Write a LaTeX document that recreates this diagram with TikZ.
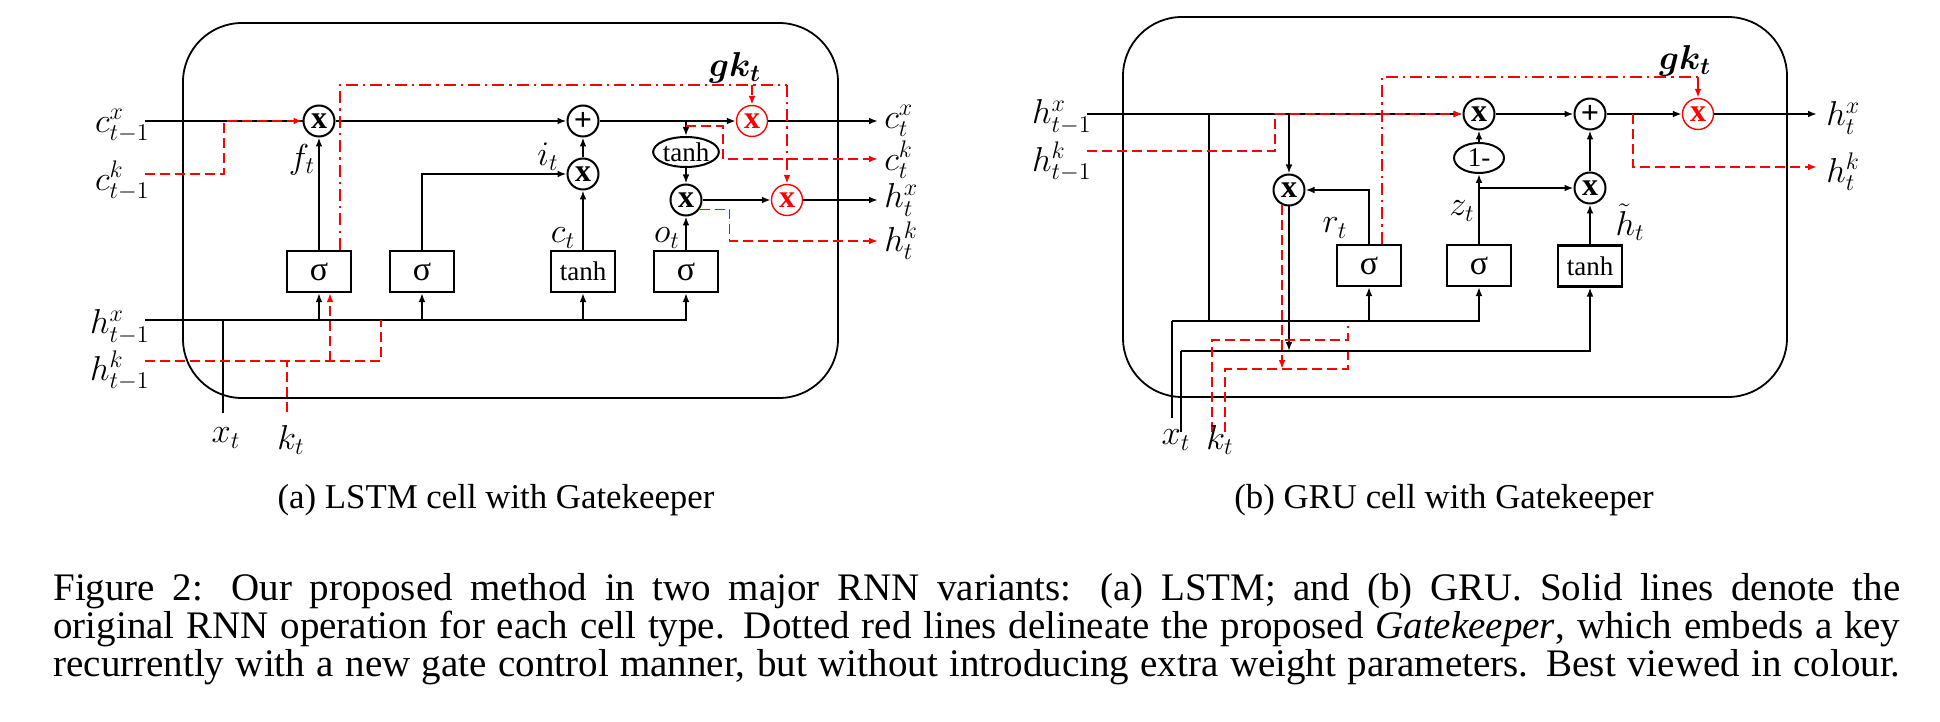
\documentclass[tikz,border=0pt]{standalone}
\usepackage{fontspec}
\setmainfont{Liberation Serif}
\usepackage{bm}
\usetikzlibrary{arrows.meta,shapes.geometric,calc}
\begin{document}
\begin{tikzpicture}[x=0.5pt,y=-0.5pt,
 ln/.style={line width=1pt},
 ar/.style={line width=1pt,-{Latex[length=4.5pt,width=3.4pt]}},
 rtip/.style={-{Latex[length=4.5pt,width=3.4pt]}},
 rdash/.style={red,line width=0.9pt,dash pattern=on 5pt off 2.5pt},
 rdd/.style={red,line width=0.9pt,dash pattern=on 6pt off 2.5pt on 1.2pt off 2.5pt},
 circ/.style={circle,draw,line width=1pt,minimum size=15.5pt,inner sep=0pt,font=\fontsize{16}{16}\selectfont\bfseries},
 rcirc/.style={circ,red,line width=0.7pt},
 gbox/.style={rectangle,draw,line width=1.1pt,minimum width=32pt,minimum height=20.5pt,inner sep=0pt,font=\fontsize{17}{17}\selectfont},
 tbox/.style={gbox,font=\fontsize{13.5}{14}\selectfont},
 ell/.style={ellipse,draw,line width=1pt,minimum width=31.5pt,minimum height=15pt,inner sep=0pt,font=\fontsize{13.5}{14}\selectfont},
 mlab/.style={inner sep=0pt,font=\fontsize{17}{20}\selectfont},
 capt/.style={inner sep=0pt,font=\fontsize{17.4}{19}\selectfont},
 bigcapt/.style={inner sep=0pt,font=\fontsize{19.5}{19}\selectfont},
 cellbox/.style={line width=0.9pt,rounded corners=29.5pt}
]
\useasboundingbox (0,0) rectangle (1940,722);

%% ================= LSTM =================
\draw[cellbox] (183,23) rectangle (838,398);

\node[circ] (fm) at (319,121) {x};
\node[circ] (pl) at (583,121) {+};
\node[circ] (im) at (583,174) {x};
\node[circ] (om) at (686,200) {x};
\node[ell] (te) at (686,152) {tanh};
\node[rcirc] (gc) at (752,121) {x};
\node[rcirc] (gh) at (787,200) {x};
\node[gbox] (s1) at (319,271.5) {σ};
\node[gbox] (s2) at (422,271.5) {σ};
\node[tbox] (tb) at (583,271.5) {tanh};
\node[gbox] (s4) at (686,271.5) {σ};

\coordinate (cin) at (145,121);
\coordinate (ckin) at (145,174);
\coordinate (hxin) at (145,320);
\coordinate (hkin) at (145,361);
\coordinate (cout) at (878,121);
\coordinate (ckout) at (878,159);
\coordinate (hout) at (878,200);
\coordinate (hkout) at (878,241);
\coordinate (xtb) at (223,413);
\coordinate (ktb) at (287,412);
\coordinate (gk1) at (752,85);
\coordinate (gk2) at (787,85);
\coordinate (hkj) at (381,320);
\coordinate (s1r) at ([xshift=5.5pt]s1.south);
\coordinate (s1t) at ([xshift=10.5pt]s1.north);

% black connectors
\draw[ln] (cin) -- (fm.west);
\draw[ar] (fm.east) -- (pl.west);
\draw[ar] (pl.east) -- (gc.west);
\draw[ar] (gc.east) -- (cout);
\draw[ar] (s1.north) -- (fm.south);
\draw[ar] (s2.north) |- (im.west);
\draw[ar] (tb.north) -- (im.south);
\draw[ar] (im.north) -- (pl.south);
\draw[ar] (te |- pl) -- (te.north);
\draw[ar] (te.south) -- (om.north);
\draw[ar] (s4.north) -- (om.south);
\draw[ar] (om.east) -- (gh.west);
\draw[ar] (gh.east) -- (hout);
\draw[ar] (hxin) -| (s4.south);
\draw[ar] (s1 |- hxin) -- (s1.south);
\draw[ar] (s2 |- hxin) -- (s2.south);
\draw[ar] (tb |- hxin) -- (tb.south);
\draw[ln] (xtb) -- (xtb |- hxin);

% red gatekeeper
\draw[rdash,rtip] (ckin) -- ++(79,0) |- (fm.west);
\draw[rdd] (s1t) |- (gk2);
\draw[rdd,rtip] (gk2) -- (gh.north);
\draw[rdash,rtip] (gk1) -- (gc.north);
\draw[rdash,rtip] ([yshift=-2.5pt]te |- pl) -- ++(37,0) |- (ckout);
\draw[rdash,rtip] (om.-35) -- ++(30,0) |- (hkout);
\draw[rdash] (hkin) -| (hkj);
\draw[rdash,rtip] (s1r |- hkin) -- (s1r);
\draw[rdash] (ktb) -- (ktb |- hkin);

% labels
\node[mlab,anchor=east] (lcx) at (150,126) {$c^x_{t-1}$};
\node[mlab,anchor=east] (lck) at (150,181) {$c^k_{t-1}$};
\node[mlab,anchor=east] (lhx) at (150,327) {$h^x_{t-1}$};
\node[mlab,anchor=east] (lhk) at (150,371) {$h^k_{t-1}$};
\node[mlab] (lf) at (302,160) {$f_t$};
\node[mlab] (li) at (548,157) {$i_t$};
\node[mlab] (lc) at (563,238) {$c_t$};
\node[mlab] (lo) at (667,238) {$o_t$};
\node[mlab] (lgk) at (735,68) {$\bm{gk_t}$};
\node[mlab,anchor=west] (lcxo) at (884,121) {$c^x_t$};
\node[mlab,anchor=west] (lcko) at (884,160) {$c^k_t$};
\node[mlab,anchor=west] (lhxo) at (884,200) {$h^x_t$};
\node[mlab,anchor=west] (lhko) at (884,241) {$h^k_t$};
\node[mlab] (lxt) at (226,438) {$x_t$};
\node[mlab] (lkt) at (291,440) {$k_t$};

\node[capt,anchor=base] (suba) at (496,508) {(a) LSTM cell with Gatekeeper};

%% ================= GRU =================
\draw[cellbox] (1123,17) rectangle (1787,397);

\node[circ] (zm) at (1479,114) {x};
\node[circ] (pl2) at (1590,114) {+};
\node[circ] (hm) at (1590,188) {x};
\node[circ] (rm) at (1289,190) {x};
\node[rcirc] (gr) at (1698,114) {x};
\node[ell,minimum width=25pt] (om1) at (1479,158) {1-};
\node[gbox] (rs) at (1369,265.5) {σ};
\node[gbox] (zs) at (1479,265.5) {σ};
\node[tbox] (ts) at (1590,266) {tanh};

\coordinate (hxin2) at (1087,114);
\coordinate (hkin2) at (1087,151);
\coordinate (hout2) at (1817,114);
\coordinate (hkout2) at (1817,167);
\coordinate (j1) at (1209,114);
\coordinate (b1) at (1172,321);
\coordinate (b2) at (1181,351);
\coordinate (x1b) at (1172,418);
\coordinate (x2b) at (1181,432);
\coordinate (k1b) at (1212,432);
\coordinate (k2b) at (1225,432);
\coordinate (kq1) at (1348,340);
\coordinate (kq1e) at (1348,326);
\coordinate (kq2) at (1348,369);
\coordinate (kq2e) at (1348,352);
\coordinate (gk3) at (1698,77);
\coordinate (hkj2) at (1633,114);
\coordinate (rml) at (rm.-115);
\coordinate (rst) at ([xshift=6.5pt]rs.north);

% black connectors
\draw[ar] (hxin2) -- (zm.west);
\draw[ln] (j1) -- (j1 |- b1);
\draw[ln] (x1b) -- (b1);
\draw[ar] (b1) -| (zs.south);
\draw[ar] (rs |- b1) -- (rs.south);
\draw[ln] (x2b) -- (b2);
\draw[ar] (b2) -| (ts.south);
\draw[ar] (rm |- hxin2) -- (rm.north);
\draw[ar] (rs.north) |- (rm.east);
\draw[ar] (rm.south) -- (rm |- b2);
\draw[ar] (zs.north) -- (om1.south);
\draw[ar] (zs |- hm) -- (hm.west);
\draw[ar] (om1.north) -- (zm.south);
\draw[ar] (zm.east) -- (pl2.west);
\draw[ar] (ts.north) -- (hm.south);
\draw[ar] (hm.north) -- (pl2.south);
\draw[ar] (pl2.east) -- (gr.west);
\draw[ar] (gr.east) -- (hout2);

% red gatekeeper
\draw[rdash,rtip] (hkin2) -- ++(188,0) |- (zm.west);
\draw[rdd] (rst) |- (gk3);
\draw[red,line width=0.9pt,rtip] (gk3) -- (gr.north);
\draw[rdash,rtip] (hkj2) |- (hkout2);
\draw[rdash,rtip] (rml) -- (rml |- kq2);
\draw[rdash] (k1b) |- (kq1) -- (kq1e);
\draw[rdash] (k2b) |- (kq2) -- (kq2e);

% labels
\node[mlab,anchor=east] (lhx2) at (1092,117) {$h^x_{t-1}$};
\node[mlab,anchor=east] (lhk2) at (1092,162) {$h^k_{t-1}$};
\node[mlab] (lr) at (1335,228) {$r_t$};
\node[mlab] (lz) at (1462,211) {$z_t$};
\node[mlab] (lht) at (1630,222) {$\tilde{h}_t$};
\node[mlab] (lgk2) at (1685,61) {$\bm{gk_t}$};
\node[mlab,anchor=west] (lhxo2) at (1826,118) {$h^x_t$};
\node[mlab,anchor=west] (lhko2) at (1826,172) {$h^k_t$};
\node[mlab] (lxt2) at (1176,440) {$x_t$};
\node[mlab] (lkt2) at (1220,440) {$k_t$};

\node[capt,anchor=base] (subb) at (1444,508) {(b) GRU cell with Gatekeeper};

%% ================= Caption =================
\node[bigcapt,anchor=base west] (fig) at (53,600) {\parbox[t]{923.5pt}{%
\makebox[923.5pt][s]{Figure 2: Our proposed method in two major RNN variants: (a) LSTM; and (b) GRU. Solid lines denote the}\\
\makebox[923.5pt][s]{original RNN operation for each cell type. Dotted red lines delineate the proposed \textit{Gatekeeper}, which embeds a key}\\
\makebox[923.5pt][s]{recurrently with a new gate control manner, but without introducing extra weight parameters. Best viewed in colour.}}};
\end{tikzpicture}
\end{document}
